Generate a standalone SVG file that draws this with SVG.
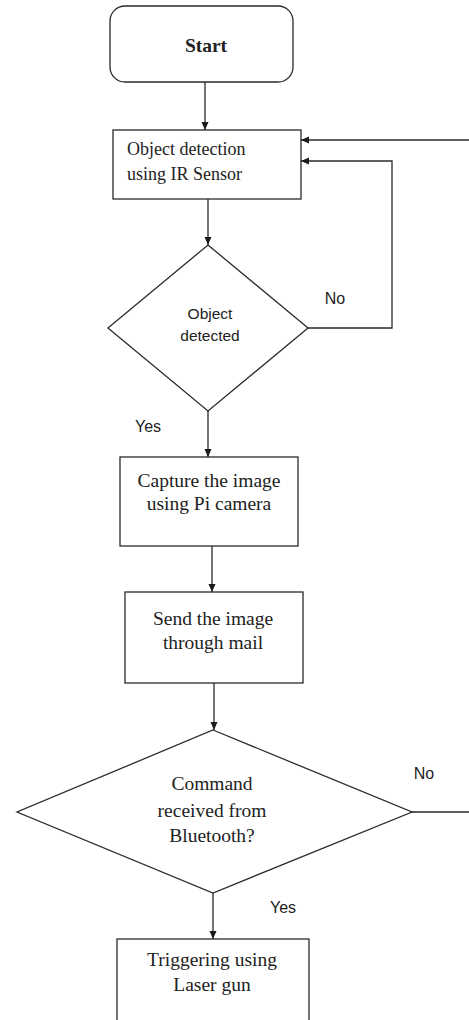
<svg xmlns="http://www.w3.org/2000/svg" width="469" height="1020" viewBox="0 0 469 1020">
<style>
.box{fill:#fff;stroke:#2a2a2a;stroke-width:1.3}
.ln{fill:none;stroke:#2a2a2a;stroke-width:1.3}
.t{font-family:"Liberation Serif","Times New Roman",serif;font-size:19.5px;fill:#222;text-anchor:middle}
.tl{font-family:"Liberation Serif","Times New Roman",serif;font-size:18px;fill:#222;text-anchor:start}
.s{font-family:"Liberation Sans",Arial,sans-serif;font-size:15.5px;fill:#222;text-anchor:middle}
.lb{font-family:"Liberation Sans",Arial,sans-serif;font-size:16px;fill:#222;text-anchor:middle}
</style>
<defs>
<marker id="ah" markerWidth="8" markerHeight="8" refX="8" refY="3.5" orient="auto" markerUnits="userSpaceOnUse">
<path d="M0,0 L8,3.5 L0,7 z" fill="#1a1a1a"/>
</marker>
</defs>
<rect width="469" height="1020" fill="#fff"/>
<g id="connectors">
<line class="ln" x1="205" y1="82" x2="205" y2="130" marker-end="url(#ah)"/>
<line class="ln" x1="469" y1="140" x2="301" y2="140" marker-end="url(#ah)"/>
<polyline class="ln" points="308,328 392,328 392,161 301,161" marker-end="url(#ah)"/>
<line class="ln" x1="208" y1="199" x2="208" y2="245" marker-end="url(#ah)"/>
<line class="ln" x1="208" y1="411" x2="208" y2="457" marker-end="url(#ah)"/>
<line class="ln" x1="212" y1="546" x2="212" y2="592" marker-end="url(#ah)"/>
<line class="ln" x1="214" y1="683" x2="214" y2="730" marker-end="url(#ah)"/>
<line class="ln" x1="412" y1="812" x2="469" y2="812"/>
<line class="ln" x1="213" y1="893" x2="213" y2="939" marker-end="url(#ah)"/>
<text class="lb" x="335" y="304">No</text>
<text class="lb" x="148" y="432">Yes</text>
<text class="lb" x="424" y="779">No</text>
<text class="lb" x="283" y="913">Yes</text>
</g>
<g id="start">
<rect class="box" x="110" y="6" width="183" height="76" rx="15"/>
<text class="t" x="206" y="52" font-weight="bold">Start</text>
</g>
<g id="detect">
<rect class="box" x="113" y="130" width="188" height="69"/>
<text class="tl" x="127" y="155">Object detection</text>
<text class="tl" x="127" y="180">using IR Sensor</text>
</g>
<g id="decision1">
<polygon class="box" points="208,245 308,328 208,411 108,328"/>
<text class="s" x="210" y="319">Object</text>
<text class="s" x="210" y="341">detected</text>
</g>
<g id="capture">
<rect class="box" x="120" y="457" width="178" height="89"/>
<text class="t" x="209" y="487">Capture the image</text>
<text class="t" x="209" y="510">using Pi camera</text>
</g>
<g id="send">
<rect class="box" x="125" y="592" width="178" height="91"/>
<text class="t" x="213" y="625">Send the image</text>
<text class="t" x="213" y="649">through mail</text>
</g>
<g id="decision2">
<polygon class="box" points="213,730 412,812 213,893 17,812"/>
<text class="t" x="212" y="790">Command</text>
<text class="t" x="212" y="817">received from</text>
<text class="t" x="212" y="842">Bluetooth?</text>
</g>
<g id="trigger">
<rect class="box" x="117" y="939" width="192" height="100"/>
<text class="t" x="212" y="966">Triggering using</text>
<text class="t" x="212" y="991">Laser gun</text>
</g>
</svg>
